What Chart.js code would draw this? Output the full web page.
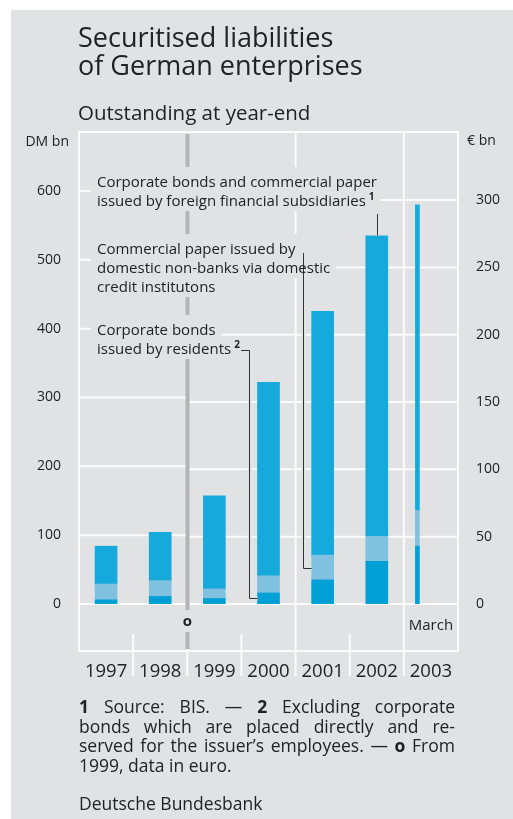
<!DOCTYPE html>
<html>
<head>
<meta charset="utf-8">
<title>Securitised liabilities of German enterprises</title>
<script src="https://cdn.jsdelivr.net/npm/chart.js@4"></script>
<style>
  body { margin: 0; background: #fff; font-family: 'Open Sans', sans-serif; color: #222; }
  .panel { position: absolute; left: 11px; top: 10px; width: 502px; height: 809px; background: #e1e2e4; }
  #chart { position: absolute; left: 0; top: 0; }
  .title { position: absolute; left: 78px; top: 23px; font-size: 27px; line-height: 28px; white-space: nowrap; }
  .subtitle { position: absolute; left: 78px; top: 100px; font-size: 20.5px; line-height: 24px; white-space: nowrap; }
  .notes { position: absolute; left: 79px; top: 697px; width: 376px; font-size: 17.5px; line-height: 19.5px; }
  .notes .j { text-align: justify; text-align-last: justify; white-space: nowrap; }
  .source { position: absolute; left: 79px; top: 794px; font-size: 17.5px; line-height: 19.5px; }
</style>
</head>
<body>
<div class="panel"></div>
<canvas id="chart" width="513" height="819"></canvas>
<div class="title">Securitised liabilities<br>of German enterprises</div>
<div class="subtitle">Outstanding at year-end</div>
<div class="notes">
  <div class="j"><b>1</b> Source: BIS. — <b>2</b> Excluding corporate</div>
  <div class="j">bonds which are placed directly and re-</div>
  <div class="j">served for the issuer’s employees. — <b>o</b> From</div>
  <div>1999, data in euro.</div>
</div>
<div class="source">Deutsche Bundesbank</div>

<script>
// Outstanding amounts read against the DM scale; last entry is end of March 2003
const years = ['1997', '1998', '1999', '2000', '2001', '2002', '2003'];
const residentBonds = [6, 11, 8, 16, 35, 62, 84];
const domesticPaper = [23, 23, 14, 25, 36, 36, 52];
const foreignSubsidiaries = [55, 70, 135, 281, 354, 437, 444];

const dmTicks = [0, 100, 200, 300, 400, 500, 600];
const euroTicks = [0, 50, 100, 150, 200, 250, 300];

const DM_PER_EURO = 1.95583;
const DM_MAX = 685.7;      // top of the frame
const EURO_FROM = 2;       // changeover between 1998 and 1999
const MARCH_POS = 6.25;    // end of Q1 inside the 2003 column
const fullSeparators = [4, 6];

const FONT = "'Open Sans', sans-serif";
const PANEL = '#e1e2e4';
const INK = '#222';

Chart.defaults.font.family = FONT;
Chart.defaults.color = INK;

// annual bars sit in the middle of their column, March 2003 a quarter in
const annualPoints = vals => vals.slice(0, 6).map((v, i) => ({ x: i + 0.5, y: v }));
const marchPoints = vals => [{ x: MARCH_POS, y: vals[6] }];

const colours = ['#009fd5', '#80c1e0', '#16a9dc'];
const series = [residentBonds, domesticPaper, foreignSubsidiaries];
const names = [
    'Corporate bonds issued by residents',
    'Commercial paper issued by domestic non-banks via domestic credit institutons',
    'Corporate bonds and commercial paper issued by foreign financial subsidiaries'
];

const datasets = [];
series.forEach((vals, k) => {
    datasets.push({ label: names[k], data: annualPoints(vals), backgroundColor: colours[k], barThickness: 22 });
});
series.forEach((vals, k) => {
    datasets.push({ label: names[k] + ' (March)', data: marchPoints(vals), backgroundColor: colours[k], barThickness: 4 });
});

function line(ctx, x1, y1, x2, y2) {
    ctx.beginPath();
    ctx.moveTo(x1, y1);
    ctx.lineTo(x2, y2);
    ctx.stroke();
}

// white frame and the split DM / euro grid
const framePlugin = {
    id: 'frame',
    beforeDatasetsDraw(chart) {
        const { ctx, chartArea: a, scales: { x, y, y2 } } = chart;
        const euroX = Math.round(x.getPixelForValue(EURO_FROM)) + 0.5;
        const bandBottom = a.bottom + 47;
        const sepBottom = a.bottom + 72;
        ctx.save();
        ctx.strokeStyle = '#fbfbfb';
        ctx.lineWidth = 2;
        dmTicks.forEach(v => {
            const py = y.getPixelForValue(v);
            line(ctx, a.left, py, euroX, py);
        });
        euroTicks.forEach(v => {
            const py = y2.getPixelForValue(v);
            line(ctx, euroX, py, a.right, py);
        });
        ctx.strokeRect(a.left, a.top, a.right - a.left, bandBottom - a.top);
        for (let i = 1; i < years.length; i++) {
            const px = x.getPixelForValue(i);
            const top = fullSeparators.includes(i) ? a.top : a.bottom + 30;
            line(ctx, px, top, px, sepBottom);
        }
        ctx.restore();
    }
};

const notes = [
    { lines: ['Corporate bonds and commercial paper', 'issued by foreign financial subsidiaries'], sup: '1', base: 187 },
    { lines: ['Commercial paper issued by', 'domestic non-banks via domestic', 'credit institutons'], base: 254 },
    { lines: ['Corporate bonds', 'issued by residents'], sup: '2', base: 335 }
];
const NOTE_X = 97;
const NOTE_LH = 19;
const blockTop = n => n.base - 20;
const blockBottom = n => n.base + (n.lines.length - 1) * NOTE_LH + 5;

// changeover line, labels with leader lines to the bar segments, axis units
const notesPlugin = {
    id: 'notes',
    afterDatasetsDraw(chart) {
        const { ctx, chartArea: a, scales: { x } } = chart;
        const bar = (ds, i) => chart.getDatasetMeta(ds).data[i];
        const euroX = Math.round(x.getPixelForValue(EURO_FROM)) + 0.5;
        const bandBottom = a.bottom + 47;
        ctx.save();

        // label boxes hide the grid behind the text
        ctx.font = '15px ' + FONT;
        const ends = [];
        notes.forEach(n => {
            n.lines.forEach((t, j) => {
                const b = n.base + j * NOTE_LH;
                let w = ctx.measureText(t).width;
                if (n.sup && j === n.lines.length - 1) w += 9;
                const top = j === 0 ? blockTop(n) : b - 15;
                ctx.fillStyle = PANEL;
                ctx.fillRect(NOTE_X - 6, top, w + 12, b + 5 - top);
                ends.push({ x: NOTE_X + w, y: b });
            });
        });

        // grey changeover line in the gaps between the label blocks
        ctx.strokeStyle = '#b3b4b6';
        ctx.lineWidth = 4;
        const stops = [a.top + 2];
        notes.forEach(n => stops.push(blockTop(n), blockBottom(n)));
        stops.push(a.bottom + 6);
        for (let k = 0; k < stops.length; k += 2) line(ctx, euroX, stops[k], euroX, stops[k + 1]);
        line(ctx, euroX, a.bottom + 28, euroX, bandBottom - 2);

        const leader = pts => {
            ctx.beginPath();
            pts.forEach((p, k) => k ? ctx.lineTo(p[0], p[1]) : ctx.moveTo(p[0], p[1]));
            ctx.strokeStyle = PANEL;
            ctx.lineWidth = 4;
            ctx.stroke();
            ctx.strokeStyle = '#333';
            ctx.lineWidth = 1;
            ctx.stroke();
        };

        // foreign subsidiaries -> top of 2002
        const b1 = bar(2, 5);
        const x1 = Math.round(b1.x) + 0.5;
        leader([[x1, notes[0].base + NOTE_LH + 8], [x1, b1.y]]);

        // domestic paper -> 2001, middle of its segment
        const b2 = bar(1, 4);
        const x2 = Math.round(b2.x - b2.width / 2) - 8.5;
        const y2m = Math.round((b2.y + b2.base) / 2) + 0.5;
        leader([[x2, notes[1].base - 1], [x2, y2m], [b2.x - b2.width / 2, y2m]]);

        // resident bonds -> 2000, middle of its segment
        const b3 = bar(0, 3);
        const x3 = Math.round(b3.x - b3.width / 2) - 8.5;
        const y3m = Math.round((b3.y + b3.base) / 2) + 0.5;
        const e3 = ends[ends.length - 1];
        const y3t = e3.y - 3.5;
        leader([[e3.x + 1, y3t], [x3, y3t], [x3, y3m], [b3.x - b3.width / 2, y3m]]);

        ctx.fillStyle = INK;
        ctx.textBaseline = 'alphabetic';
        notes.forEach(n => {
            n.lines.forEach((t, j) => {
                const b = n.base + j * NOTE_LH;
                ctx.font = '15px ' + FONT;
                ctx.textAlign = 'left';
                ctx.fillText(t, NOTE_X, b);
                if (n.sup && j === n.lines.length - 1) {
                    const w = ctx.measureText(t).width;
                    ctx.font = 'bold 10px ' + FONT;
                    ctx.fillText(n.sup, NOTE_X + w + 3, b - 6);
                }
            });
        });

        ctx.font = '14px ' + FONT;
        ctx.textAlign = 'right';
        ctx.fillText('DM bn', a.left - 10, 146);
        ctx.textAlign = 'left';
        ctx.fillText('€ bn', a.right + 9, 145);

        ctx.textBaseline = 'middle';
        ctx.textAlign = 'center';
        ctx.font = 'bold 15px ' + FONT;
        ctx.fillText('o', x.getPixelForValue(EURO_FROM), a.bottom + 18);
        ctx.font = '15px ' + FONT;
        ctx.fillText('March', x.getPixelForValue(6.5), a.bottom + 22);
        ctx.restore();
    }
};

new Chart(document.getElementById('chart'), {
    type: 'bar',
    data: { datasets },
    options: {
        responsive: false,
        animation: false,
        devicePixelRatio: 1,
        layout: { padding: { top: 132, left: 0, right: 0, bottom: 0 } },
        plugins: {
            legend: { display: false },
            tooltip: { enabled: false }
        },
        scales: {
            x: {
                type: 'linear',
                stacked: true,
                offset: false,
                min: 0,
                max: 7,
                grid: { display: false },
                border: { display: false },
                afterBuildTicks: s => { s.ticks = years.map((yr, i) => ({ value: i + 0.5 })); },
                afterFit: s => { s.height = 215; },
                ticks: {
                    autoSkip: false,
                    maxRotation: 0,
                    padding: 49,
                    color: INK,
                    font: { size: 18.5 },
                    callback: (v, i) => years[i]
                }
            },
            y: {
                position: 'left',
                stacked: true,
                min: 0,
                max: DM_MAX,
                grid: { display: false },
                border: { display: false },
                afterBuildTicks: s => { s.ticks = dmTicks.map(v => ({ value: v })); },
                afterFit: s => { s.width = 79; },
                ticks: { padding: 10, color: INK, font: { size: 14 } }
            },
            y2: {
                position: 'right',
                min: 0,
                max: DM_MAX / DM_PER_EURO,
                grid: { display: false },
                border: { display: false },
                afterBuildTicks: s => { s.ticks = euroTicks.map(v => ({ value: v })); },
                afterFit: s => { s.width = 55; },
                ticks: { padding: 10, color: INK, font: { size: 14 } }
            }
        }
    },
    plugins: [framePlugin, notesPlugin]
});
</script>
</body>
</html>
